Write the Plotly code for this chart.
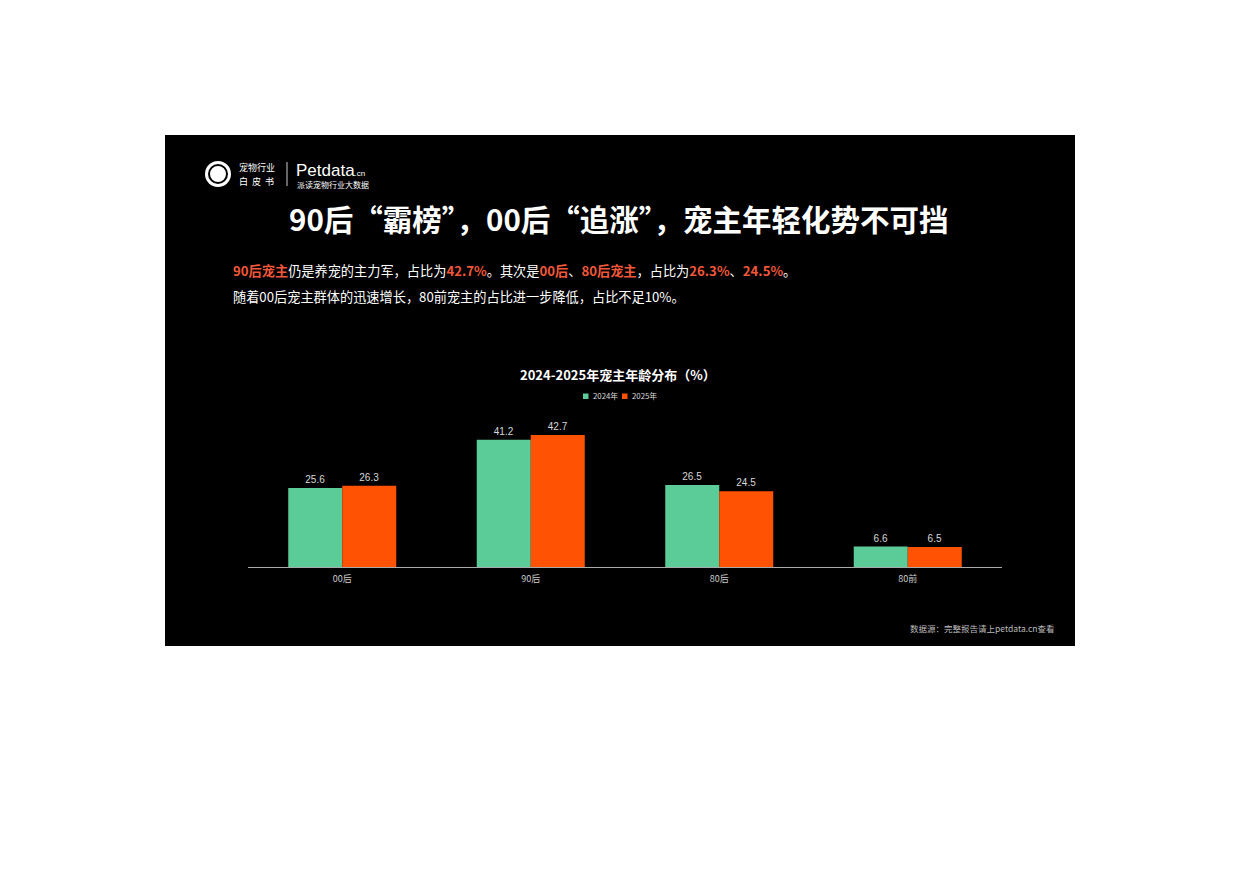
import plotly.graph_objects as go

categories = ["00后", "90后", "80后", "80前"]
series_names = ["2024年", "2025年"]
values_2024 = [25.6, 41.2, 26.5, 6.6]
values_2025 = [26.3, 42.7, 24.5, 6.5]
colors = ["#5BCB98", "#FF5203"]

OFF = 8  # page body margin
W, H = 1240 - OFF, 876 - OFF
FONT = "Noto Sans CJK SC"
RED = "#F2573A"


def px(x):
    return (x - OFF) / W


def py(y):
    return 1 - (y - OFF) / H


fig = go.Figure()
for name, vals, col in zip(series_names, [values_2024, values_2025], colors):
    fig.add_trace(go.Bar(
        name=name, x=categories, y=vals, marker=dict(color=col, line=dict(width=0)),
        text=[f"{v:.1f}" for v in vals], textposition="outside",
        textfont=dict(size=10, color="#d8d8d8", family="Liberation Sans"),
        cliponaxis=False, showlegend=False,
    ))

shapes = [
    dict(type="rect", xref="paper", yref="paper", x0=px(165), x1=px(1075),
         y0=py(646), y1=py(135), fillcolor="#000000", line=dict(width=0), layer="below"),
    # logo circle
    dict(type="circle", xref="paper", yref="paper", x0=px(205), x1=px(231),
         y0=py(187), y1=py(161), fillcolor="#ffffff", line=dict(width=0)),
    dict(type="circle", xref="paper", yref="paper", x0=px(209), x1=px(227),
         y0=py(183), y1=py(165), fillcolor="rgba(0,0,0,0)", line=dict(width=2, color="#000000")),
    dict(type="line", xref="paper", yref="paper", x0=px(287), x1=px(287),
         y0=py(186), y1=py(162), line=dict(width=1, color="#cccccc")),
]

annotations = [
    dict(text="宠物行业", x=px(237), y=py(167), xanchor="left", yanchor="middle",
         font=dict(size=9, color="#ffffff", family=FONT)),
    dict(text="白  皮  书", x=px(237), y=py(182), xanchor="left", yanchor="middle",
         font=dict(size=9, color="#ffffff", family=FONT)),
    dict(text="Petdata<span style='font-size:8px'>.cn</span>", x=px(294), y=py(170),
         xanchor="left", yanchor="middle",
         font=dict(size=17, color="#ffffff", family="Liberation Sans")),
    dict(text="派读宠物行业大数据", x=px(295), y=py(184), xanchor="left", yanchor="middle",
         font=dict(size=8, color="#ffffff", family=FONT)),
    dict(text="<b>90后“霸榜”，00后“追涨”，宠主年轻化势不可挡</b>", x=px(619), y=py(218),
         xanchor="center", yanchor="middle",
         font=dict(size=29.5, color="#ffffff", family=FONT)),
    dict(text=(f"<span style='color:{RED}'><b>90后宠主</b></span>仍是养宠的主力军，占比为"
               f"<span style='color:{RED}'><b>42.7%</b></span>。其次是"
               f"<span style='color:{RED}'><b>00后</b></span>、"
               f"<span style='color:{RED}'><b>80后宠主</b></span>，占比为"
               f"<span style='color:{RED}'><b>26.3%</b></span>、"
               f"<span style='color:{RED}'><b>24.5%</b></span>。"),
         x=px(231), y=py(270), xanchor="left", yanchor="middle",
         font=dict(size=13.2, color="#ffffff", family=FONT)),
    dict(text="随着00后宠主群体的迅速增长，80前宠主的占比进一步降低，占比不足10%。",
         x=px(231), y=py(296), xanchor="left", yanchor="middle",
         font=dict(size=13.2, color="#ffffff", family=FONT)),
    dict(text="<b>2024-2025年宠主年龄分布（%）</b>", x=px(618), y=py(374),
         xanchor="center", yanchor="middle",
         font=dict(size=13, color="#ffffff", family=FONT)),
    dict(text="数据源：完整报告请上petdata.cn查看", x=px(1056), y=py(628),
         xanchor="right", yanchor="middle",
         font=dict(size=8.5, color="#bbbbbb", family=FONT)),
]

# compact legend (square swatch + label), built from series names/colours
leg_x0 = 583
for i, (name, col) in enumerate(zip(series_names, colors)):
    sx = leg_x0 + i * 39
    shapes.append(dict(type="rect", xref="paper", yref="paper", x0=px(sx), x1=px(sx + 5.5),
                       y0=py(399), y1=py(393.5), fillcolor=col, line=dict(width=0)))
    annotations.append(dict(text=name, x=px(sx + 7.5), y=py(396), xanchor="left", yanchor="middle",
                            font=dict(size=7.8, color="#dddddd", family=FONT)))

for a in annotations:
    a.update(xref="paper", yref="paper", showarrow=False)

fig.update_layout(
    width=W, height=H,
    margin=dict(l=0, r=0, t=0, b=0),
    paper_bgcolor="#ffffff", plot_bgcolor="rgba(0,0,0,0)",
    barmode="group", bargap=0.427, bargroupgap=0,
    shapes=shapes, annotations=annotations,
    showlegend=False,
    xaxis=dict(domain=[px(248), px(1002)], showline=True, linecolor="#aaaaaa", linewidth=1,
               showgrid=False, ticks="", tickfont=dict(size=9, color="#cccccc", family=FONT),
               ticklabelstandoff=3, fixedrange=True),
    yaxis=dict(domain=[py(567), py(412.5)], range=[0, 50], visible=False, showgrid=False,
               zeroline=False, fixedrange=True),
)

fig.write_html("out.html")
